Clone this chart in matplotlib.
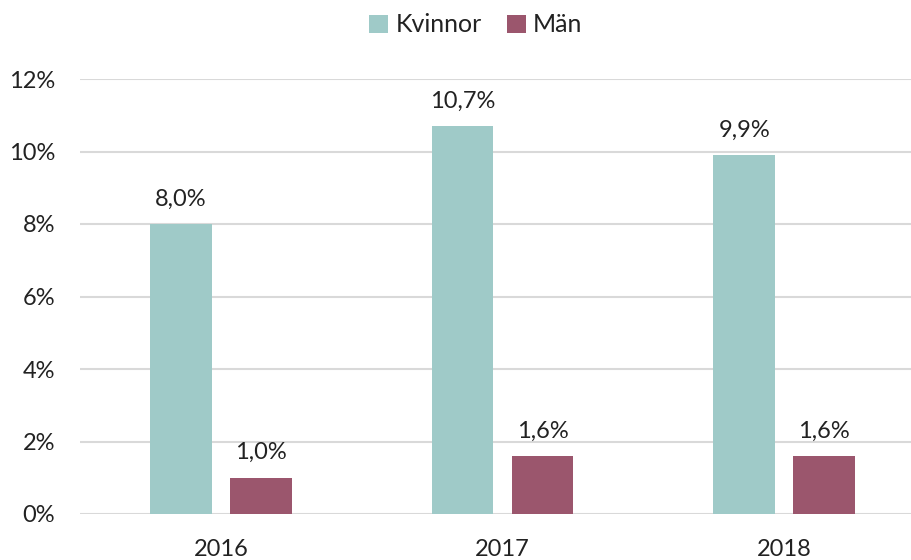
import matplotlib
matplotlib.use("Agg")
import matplotlib.pyplot as plt
import numpy as np

years = ["2016", "2017", "2018"]
kvinnor = [8.0, 10.7, 9.9]
man = [1.0, 1.6, 1.6]
yticks = [0, 2, 4, 6, 8, 10, 12]

plt.rcParams['font.family'] = ['Lato', 'DejaVu Sans']
c_k = "#9FCAC8"
c_m = "#9B566D"
txt = "#222222"
fs = 17

fig = plt.figure(figsize=(9.11, 5.6), dpi=100)
ax = fig.add_axes([80/911, 46/560, 845/911, 435/560])
x = np.arange(len(years))
w = 0.22
off = 0.142
b1 = ax.bar(x - off, kvinnor, w, color=c_k, label="Kvinnor", zorder=3)
b2 = ax.bar(x + off, man, w, color=c_m, label="Män", zorder=3)
for bars, vals in ((b1, kvinnor), (b2, man)):
    for r, v in zip(bars, vals):
        ax.text(r.get_x() + r.get_width()/2, v + 0.4, f"{v:.1f}%".replace(".", ","),
                ha="center", va="bottom", fontsize=fs, color=txt)

ax.set_xlim(-0.5, 2.5)
ax.set_ylim(0, 12)
ax.set_yticks(yticks)
ax.set_yticklabels([f"{t}%" for t in yticks], fontsize=fs, color=txt)
ax.set_xticks(x)
ax.set_xticklabels(years, fontsize=fs, color=txt)
ax.tick_params(axis="both", length=0)
ax.tick_params(axis="y", pad=18)
ax.tick_params(axis="x", pad=18)
ax.grid(axis="y", color="#D9D9D9", linewidth=1.5, zorder=0)
for s in ax.spines.values():
    s.set_visible(False)

leg = fig.legend(handles=[b1, b2], loc="center", bbox_to_anchor=(476/911, 1 - 25/560),
                 ncol=2, frameon=False, fontsize=18, handlelength=0.75, handleheight=0.75,
                 handletextpad=0.3, columnspacing=1.0)
for t in leg.get_texts():
    t.set_color(txt)

fig.savefig("out.png", dpi=100)
